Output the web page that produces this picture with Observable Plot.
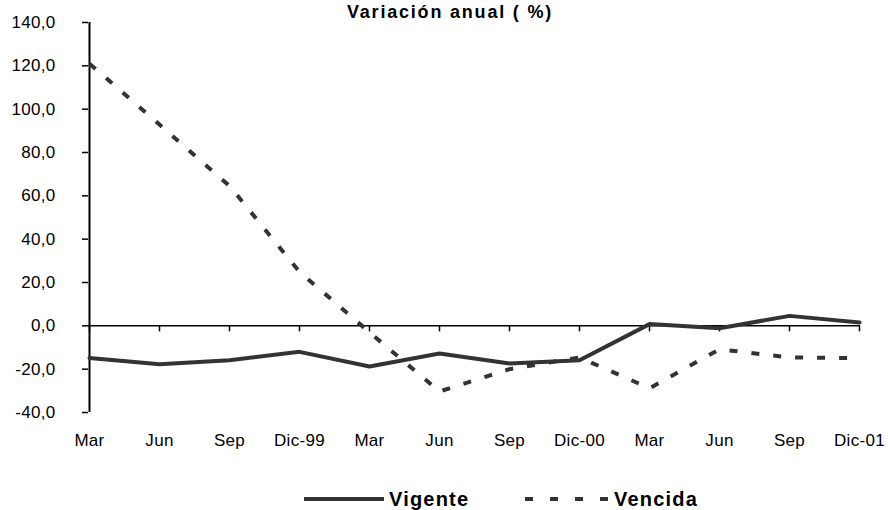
<!DOCTYPE html>
<html>
<head>
<meta charset="utf-8">
<script src="https://cdn.jsdelivr.net/npm/d3@7"></script>
<script src="https://cdn.jsdelivr.net/npm/@observablehq/plot@0.6"></script>
<style>
  html, body { margin: 0; padding: 0; background: #fff; overflow: hidden; }
  #wrap { position: relative; width: 888px; height: 510px; font-family: "Liberation Sans", Arial, sans-serif; }
  #title { position: absolute; left: 0; width: 900px; top: 2px; text-align: center; font-weight: bold; font-size: 18px; letter-spacing: 1.8px; color: #000; z-index: 2; line-height: 20px; }
  #chart { position: absolute; left: 0; top: 0; }
  #legend { position: absolute; left: 0; top: 460px; width: 888px; height: 50px; }
  .leg-item { position: absolute; top: 27px; display: flex; align-items: center; font-weight: bold; font-size: 20px; letter-spacing: 1.2px; color: #000; line-height: 24px; }
  .leg-item svg { display: block; margin-right: 5px; }
</style>
</head>
<body>
<div id="wrap">
  <div id="title">Variación anual ( %)</div>
  <div id="chart"></div>
  <div id="legend"></div>
</div>
<script>
// ---- data ----
const xLabels = ["Mar", "Jun", "Sep", "Dic-99", "Mar", "Jun", "Sep", "Dic-00", "Mar", "Jun", "Sep", "Dic-01"];
const vigente = [-14.9, -17.7, -15.9, -12.0, -18.8, -12.8, -17.4, -15.9, 0.8, -1.1, 4.6, 1.5];
const vencida = [121.0, 92.9, 64.6, 24.9, -3.0, -30.3, -20.0, -14.6, -28.8, -10.8, -14.6, -14.9];
const yTicks = [-40, -20, 0, 20, 40, 60, 80, 100, 120, 140];
const seriesNames = ["Vigente", "Vencida"];

const idx = d3.range(xLabels.length);
const rows = idx.map(i => ({i, vigente: vigente[i], vencida: vencida[i]}));
const fmt = d => d.toFixed(1).replace(".", ",");

const lineColor = "#333333";

const plot = Plot.plot({
  width: 888,
  height: 460,
  marginLeft: 88,
  marginRight: 28,
  marginTop: 22,
  marginBottom: 48,
  style: {fontFamily: "Liberation Sans, Arial, sans-serif", fontSize: "17px", letterSpacing: "0.3px", color: "#000", background: "transparent", overflow: "visible"},
  x: {type: "point", domain: idx, padding: 0, label: null},
  y: {domain: [-40, 140], label: null},
  marks: [
    Plot.axisY({ticks: yTicks, tickFormat: fmt, tickSize: 6, tickPadding: 27, stroke: "#000", strokeWidth: 1.5, label: null}),
    Plot.axisX({anchor: "bottom", tickSize: 0, tickPadding: 21, tickFormat: i => xLabels[i], label: null}),
    Plot.ruleX([0], {stroke: "#000", strokeWidth: 2}),
    Plot.ruleY([0], {stroke: "#000", strokeWidth: 1.5}),
    Plot.ruleX(idx, {x: d => d, y1: 0, y2: 0, insetBottom: -6, stroke: "#000", strokeWidth: 1.5}),
    Plot.line(rows, {x: "i", y: "vencida", stroke: lineColor, strokeWidth: 4, strokeDasharray: "8,14", strokeLinecap: "butt", strokeLinejoin: "miter"}),
    Plot.line(rows, {x: "i", y: "vigente", stroke: lineColor, strokeWidth: 4, strokeLinejoin: "round"})
  ]
});
document.getElementById("chart").appendChild(plot);

// ---- legend ----
const legend = document.getElementById("legend");
const items = [
  {name: seriesNames[0], left: 304, dash: null, w: 80},
  {name: seriesNames[1], left: 525, dash: "8,17", w: 84}
];
items.forEach(it => {
  const div = document.createElement("div");
  div.className = "leg-item";
  div.style.left = it.left + "px";
  const svg = d3.create("svg").attr("width", it.w).attr("height", 10);
  svg.append("line").attr("x1", 0).attr("x2", it.w).attr("y1", 5).attr("y2", 5)
    .attr("stroke", lineColor).attr("stroke-width", 4)
    .attr("stroke-dasharray", it.dash);
  div.appendChild(svg.node());
  const span = document.createElement("span");
  span.textContent = it.name;
  div.appendChild(span);
  legend.appendChild(div);
});
</script>
</body>
</html>
